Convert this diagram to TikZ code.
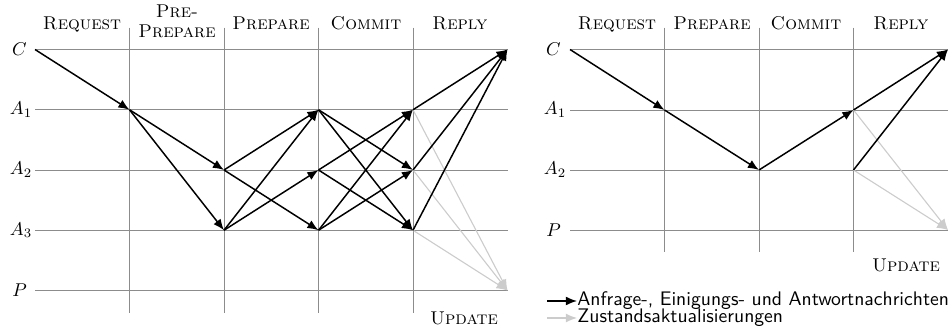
\documentclass[tikz,border=0pt]{standalone}
\usetikzlibrary{arrows.meta}
\tikzset{
  gridline/.style={draw=black!45, line width=0.5pt},
  msg/.style={-{Latex[length=6pt,width=4.8pt]}, line width=0.8pt, draw=black},
  upd/.style={-{Latex[length=6pt,width=4.8pt]}, line width=0.6pt, draw=black!20},
  phase/.style={font=\scshape, anchor=base, inner sep=0pt},
  role/.style={inner sep=0pt},
  legend/.style={font=\fontsize{10.6}{12.5}\sffamily, anchor=west, inner sep=0pt},
}
\begin{document}
\begin{tikzpicture}[x=0.54pt,y=-0.54pt]
\useasboundingbox (0,0) rectangle (950,331);

% ---------- left diagram: PBFT with pre-prepare phase ----------
\foreach \r/\y in {C/49.5,A1/109.75,A2/170,A3/230.25,P/290.5}{
  \foreach \c/\x in {0/35,1/129.5,2/224,3/318.5,4/413,5/507.5}{
    \coordinate (l-\r-\c) at (\x,\y);
  }
}
\foreach \c/\x in {1/129.5,2/224,3/318.5,4/413}{
  \coordinate (l-top-\c) at (\x,27.5);
  \coordinate (l-bot-\c) at (\x,313);
  \draw[gridline] (l-top-\c) -- (l-bot-\c);
}
\foreach \r in {C,A1,A2,A3,P}{
  \draw[gridline] (l-\r-0) -- (l-\r-5);
}

\node[role] (l-lab-C)  at (19.5,49.5)   {$C$};
\node[role] (l-lab-A1) at (21,109.75)   {$A_1$};
\node[role] (l-lab-A2) at (21,170)      {$A_2$};
\node[role] (l-lab-A3) at (21,230.25)   {$A_3$};
\node[role] (l-lab-P)  at (19.5,290.5)  {$P$};

\node[phase] (l-h-1) at (82,30)  {Request};
\node[font=\scshape, align=center, inner sep=0pt] (l-h-2) at (177,21.5) {Pre-\\[-1.5pt]Prepare};
\node[phase] (l-h-3) at (271,30) {Prepare};
\node[phase] (l-h-4) at (366,30) {Commit};
\node[phase] (l-h-5) at (460,30) {Reply};
\node[phase] (l-h-6) at (464,324) {Update};

% request and pre-prepare
\draw[msg] (l-C-0) -- (l-A1-1);
\draw[msg] (l-A1-1) -- (l-A2-2);
\draw[msg] (l-A1-1) -- (l-A3-2);
% prepare
\foreach \s/\t in {A2/A1,A2/A3,A3/A1,A3/A2}{
  \draw[msg] (l-\s-2) -- (l-\t-3);
}
% commit
\foreach \s/\t in {A1/A2,A1/A3,A2/A1,A2/A3,A3/A1,A3/A2}{
  \draw[msg] (l-\s-3) -- (l-\t-4);
}
% reply and state update
\foreach \s in {A1,A2,A3}{
  \draw[upd] (l-\s-4) -- (l-P-5);
  \draw[msg] (l-\s-4) -- (l-C-5);
}

% ---------- right diagram: shortened protocol ----------
\foreach \r/\y in {C/49.5,A1/110,A2/170,P/230}{
  \foreach \c/\x in {0/570,1/664.5,2/759,3/853.5,4/948}{
    \coordinate (r-\r-\c) at (\x,\y);
  }
}
\foreach \c/\x in {1/664.5,2/759,3/853.5}{
  \coordinate (r-top-\c) at (\x,27.5);
  \coordinate (r-bot-\c) at (\x,252);
  \draw[gridline] (r-top-\c) -- (r-bot-\c);
}
\foreach \r in {C,A1,A2,P}{
  \draw[gridline] (r-\r-0) -- (r-\r-4);
}

\node[role] (r-lab-C)  at (553.5,49.5) {$C$};
\node[role] (r-lab-A1) at (555,110)    {$A_1$};
\node[role] (r-lab-A2) at (555,170)    {$A_2$};
\node[role] (r-lab-P)  at (553.5,230)  {$P$};

\node[phase] (r-h-1) at (617,30)  {Request};
\node[phase] (r-h-2) at (712,30)  {Prepare};
\node[phase] (r-h-3) at (806,30)  {Commit};
\node[phase] (r-h-4) at (901,30)  {Reply};
\node[phase] (r-h-5) at (906,271) {Update};

\draw[msg] (r-C-0) -- (r-A1-1);
\draw[msg] (r-A1-1) -- (r-A2-2);
\draw[msg] (r-A2-2) -- (r-A1-3);
\draw[upd] (r-A1-3) -- (r-P-4);
\draw[upd] (r-A2-3) -- (r-P-4);
\draw[msg] (r-A1-3) -- (r-C-4);
\draw[msg] (r-A2-3) -- (r-C-4);

% ---------- legend ----------
\node[legend] (leg-t1) at (577,301) {Anfrage-, Einigungs- und Antwortnachrichten};
\node[legend] (leg-t2) at (577,318) {Zustandsaktualisierungen};
\coordinate (leg-k1) at (547,301);
\coordinate (leg-k2) at (547,318);
\draw[msg] (leg-k1) -- (leg-t1.west);
\draw[upd] (leg-k2) -- (leg-t2.west);
\end{tikzpicture}
\end{document}
